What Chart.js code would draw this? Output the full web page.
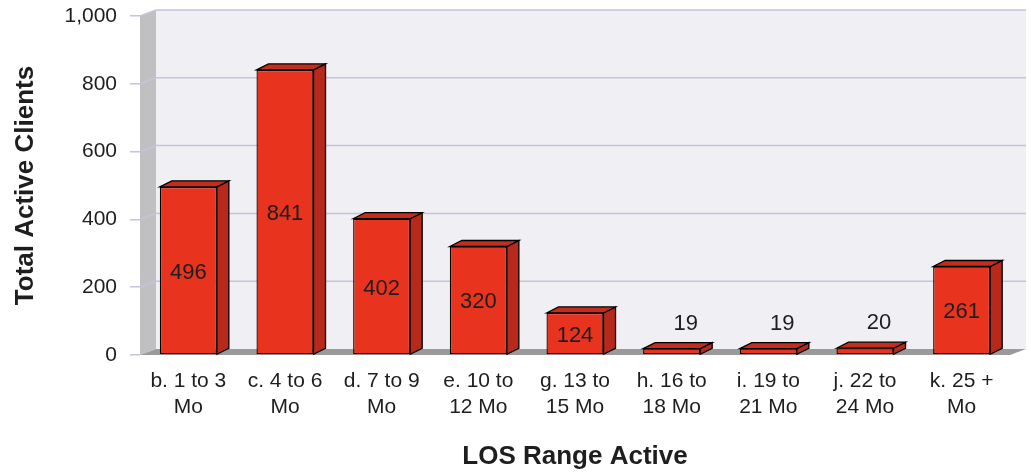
<!DOCTYPE html>
<html>
<head>
<meta charset="utf-8">
<script src="https://cdn.jsdelivr.net/npm/chart.js@4.4.0/dist/chart.umd.min.js"></script>
<style>
  html, body { margin: 0; padding: 0; background: #ffffff; }
  #wrap { width: 1031px; height: 472px; }
</style>
</head>
<body>
<div id="wrap"><canvas id="los-chart" width="1031" height="472"></canvas></div>
<script>
  'use strict';

  // LOS ranges, two lines each as on the axis
  const categories = [
    ['b. 1 to 3', 'Mo'],
    ['c. 4 to 6', 'Mo'],
    ['d. 7 to 9', 'Mo'],
    ['e. 10 to', '12 Mo'],
    ['g. 13 to', '15 Mo'],
    ['h. 16 to', '18 Mo'],
    ['i. 19 to', '21 Mo'],
    ['j. 22 to', '24 Mo'],
    ['k. 25 +', 'Mo'],
  ];
  const activeClients = [496, 841, 402, 320, 124, 19, 19, 20, 261];
  const yTicks = [0, 200, 400, 600, 800, 1000];

  const FONT = '"Liberation Sans", Arial, Helvetica, sans-serif';
  const WALL_DX = 16;
  const WALL_DY = -6;
  const BAR_DX = 12;
  const BAR_DY = -6;

  // back wall, side wall, floor and the grid on the wall
  const walls = {
    id: 'walls',
    beforeDatasetsDraw(chart) {
      const ctx = chart.ctx;
      const a = chart.chartArea;
      const y = chart.scales.y;
      ctx.save();
      ctx.fillStyle = '#efeff4';
      ctx.fillRect(a.left + WALL_DX, a.top + WALL_DY,
        a.right - a.left, a.bottom - a.top);

      ctx.fillStyle = '#c0c0c2';
      ctx.beginPath();
      ctx.moveTo(a.left, a.top);
      ctx.lineTo(a.left + WALL_DX, a.top + WALL_DY);
      ctx.lineTo(a.left + WALL_DX, a.bottom + WALL_DY);
      ctx.lineTo(a.left, a.bottom);
      ctx.closePath();
      ctx.fill();

      ctx.strokeStyle = '#c4c4dc';
      ctx.lineWidth = 1.5;
      yTicks.forEach((v) => {
        if (v === 0) {
          return;
        }
        const py = y.getPixelForValue(v);
        ctx.beginPath();
        ctx.moveTo(a.left, py);
        ctx.lineTo(a.left + WALL_DX, py + WALL_DY);
        ctx.lineTo(a.right + WALL_DX, py + WALL_DY);
        ctx.stroke();
      });

      ctx.fillStyle = '#9a9a9a';
      ctx.beginPath();
      ctx.moveTo(a.left, a.bottom);
      ctx.lineTo(a.left + WALL_DX, a.bottom + WALL_DY);
      ctx.lineTo(a.right + WALL_DX, a.bottom + WALL_DY);
      ctx.lineTo(a.right, a.bottom);
      ctx.closePath();
      ctx.fill();
      ctx.restore();
    },
  };

  // side and top faces of the bars, then the value labels
  const barDepth = {
    id: 'barDepth',
    afterDatasetsDraw(chart) {
      const ctx = chart.ctx;
      const meta = chart.getDatasetMeta(0);
      ctx.save();
      ctx.strokeStyle = '#000000';
      ctx.lineWidth = 1.3;
      ctx.lineJoin = 'miter';
      meta.data.forEach((bar, i) => {
        const p = bar.getProps(['x', 'y', 'base', 'width'], true);
        const l = p.x - p.width / 2;
        const r = p.x + p.width / 2;

        ctx.fillStyle = '#b6291b';
        ctx.beginPath();
        ctx.moveTo(r, p.y);
        ctx.lineTo(r + BAR_DX, p.y + BAR_DY);
        ctx.lineTo(r + BAR_DX, p.base + BAR_DY);
        ctx.lineTo(r, p.base);
        ctx.closePath();
        ctx.fill();
        ctx.stroke();

        ctx.fillStyle = '#c22d1d';
        ctx.beginPath();
        ctx.moveTo(l, p.y);
        ctx.lineTo(l + BAR_DX, p.y + BAR_DY);
        ctx.lineTo(r + BAR_DX, p.y + BAR_DY);
        ctx.lineTo(r, p.y);
        ctx.closePath();
        ctx.fill();
        ctx.stroke();

        ctx.fillStyle = '#1e1e1e';
        ctx.font = '22px ' + FONT;
        ctx.textAlign = 'center';
        ctx.textBaseline = 'middle';
        const text = String(activeClients[i]);
        if (p.base - p.y > 30) {
          ctx.fillText(text, p.x, (p.y + p.base) / 2 + 2);
        }
        else {
          ctx.fillText(text, p.x + 14, p.y - 25);
        }
      });
      ctx.restore();
    },
  };

  const config = {
    type: 'bar',
    data: {
      labels: categories,
      datasets: [
        {
          data: activeClients,
          backgroundColor: '#e8331f',
          borderColor: '#000000',
          borderWidth: 1.3,
          borderSkipped: false,
          barPercentage: 0.59,
          categoryPercentage: 1,
        },
      ],
    },
    options: {
      responsive: false,
      animation: false,
      layout: {
        padding: { top: 16, right: 21, left: 0, bottom: 0 },
      },
      plugins: {
        legend: { display: false },
        tooltip: { enabled: false },
      },
      scales: {
        x: {
          grid: { display: false, drawTicks: false },
          border: { display: false },
          ticks: {
            autoSkip: false,
            maxRotation: 0,
            padding: 14,
            color: '#1e1e1e',
            font: { family: FONT, size: 21, lineHeight: 1.2 },
          },
          title: {
            display: true,
            text: 'LOS Range Active',
            color: '#1e1e1e',
            padding: { top: 0, bottom: 0 },
            font: { family: FONT, size: 26, weight: 'bold' },
          },
          afterFit: (scale) => {
            scale.height = 117;
            scale.paddingLeft = 0;
            scale.paddingRight = 0;
          },
        },
        y: {
          min: 0,
          max: 1000,
          grid: {
            drawOnChartArea: false,
            drawTicks: true,
            tickLength: 10,
            color: '#c4c4dc',
            lineWidth: 1.5,
          },
          border: { display: false },
          ticks: {
            stepSize: 200,
            padding: 13,
            color: '#1e1e1e',
            font: { family: FONT, size: 21 },
          },
          title: {
            display: true,
            text: 'Total Active Clients',
            color: '#1e1e1e',
            padding: { top: 10, bottom: 0 },
            font: { family: FONT, size: 26, weight: 'bold' },
          },
          afterFit: (scale) => {
            scale.width = 140;
            scale.paddingTop = 0;
            scale.paddingBottom = 0;
          },
        },
      },
    },
    plugins: [walls, barDepth],
  };

  const losChart = new Chart(document.getElementById('los-chart'), config);
</script>
</body>
</html>
